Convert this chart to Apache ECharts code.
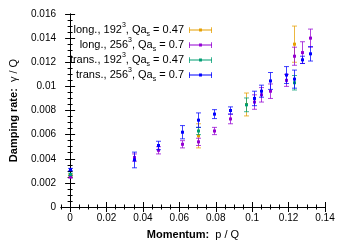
<!DOCTYPE html>
<html><head><meta charset="utf-8">
<script src="https://cdn.jsdelivr.net/npm/echarts@6/dist/echarts.min.js"></script>
<style>html,body{margin:0;padding:0;background:#fff}#c{width:350px;height:245px}</style>
</head><body><div id="c"></div>
<script>
// Data: [momentum p/Q, damping rate γ/Q, error]
const seriesNames = ['long192', 'long256', 'trans192', 'trans256'];
const long192 = [[0,0.0026,0.0001],[0.0701,0.0059,0.001],[0.0964,0.0085,0.00095],[0.1227,0.0135,0.0015]];
const long256 = [[0,0.0025,0.0001],[0.0349,0.0041,0.0003],[0.0484,0.0047,0.0003],[0.0614,0.0052,0.0003],[0.0701,0.0054,0.0003],[0.0788,0.0063,0.0003],[0.0877,0.0073,0.0004],[0.101,0.0087,0.0006],[0.1051,0.0093,0.0006],[0.1097,0.0096,0.0006],[0.1184,0.0105,0.0005],[0.1227,0.0125,0.00075],[0.1271,0.0128,0.0009],[0.1315,0.0140,0.00075]];
const trans192 = [[0,0.0027,0.0001],[0.0701,0.0063,0.0003],[0.0964,0.00847,0.00057],[0.1227,0.0103,0.0006]];
const trans256 = [[0,0.0031,0.0001],[0.0349,0.0039,0.00065],[0.0484,0.0051,0.00035],[0.0614,0.0062,0.00055],[0.0701,0.0072,0.0006],[0.0788,0.0077,0.00037],[0.0877,0.0080,0.0003],[0.101,0.0090,0.0006],[0.1051,0.0096,0.0005],[0.1097,0.01045,0.0007],[0.1184,0.01094,0.0007],[0.1227,0.0106,0.00075],[0.1271,0.0122,0.0003],[0.1315,0.0127,0.0006]];
const legendTexts = [
  ['long., 192','0.47'],
  ['long., 256','0.7'],
  ['trans., 192','0.47'],
  ['trans., 256','0.7']
];
const xTicks = [0,0.02,0.04,0.06,0.08,0.1,0.12,0.14];
const xMinor = []; for (let i=0;i<=29;i++) xMinor.push(+(-0.005+i*0.005).toFixed(3));
const yTicks = [0,0.002,0.004,0.006,0.008,0.01,0.012,0.014,0.016];
const yMinor = []; for (let i=0;i<=32;i++) yMinor.push(+(i*0.0005).toFixed(4));
const colors = ['#e69f00','#9400d3','#009e73','#0000ff'];
const allData = [long192, long256, trans192, trans256];

const chart = echarts.init(document.getElementById('c'), null, {renderer:'canvas'});
const font = 'Liberation Sans';
function errRender(color){
  return function(params, api){
    const x=api.value(0), y=api.value(1), e=api.value(2);
    const c=api.coord([x,y]), hi=api.coord([x,y+e]), lo=api.coord([x,y-e]);
    const w=2.5, st={stroke:color,lineWidth:1,opacity:0.75};
    const cx=Math.round(c[0])+0.5;
    return {type:'group',children:[
      {type:'line',shape:{x1:cx,y1:hi[1],x2:cx,y2:lo[1]},style:st},
      {type:'line',shape:{x1:cx-w,y1:hi[1],x2:cx+w,y2:hi[1]},style:st},
      {type:'line',shape:{x1:cx-w,y1:lo[1],x2:cx+w,y2:lo[1]},style:st},
      {type:'rect',shape:{x:cx-1.5,y:c[1]-1.5,width:3,height:3},style:{fill:color}}
    ]};
  };
}
const rich = {
  n:{fontFamily:font,fontSize:11,color:'#000',lineHeight:16},
  sup:{fontFamily:font,fontSize:7,color:'#000',lineHeight:8,verticalAlign:'top'},
  sub:{fontFamily:font,fontSize:7,color:'#000',lineHeight:8,verticalAlign:'bottom'}
};
const icon = 'path://M0,1H0.8V7H0Z M23.2,1H24V7H23.2Z M0,3.6H24V4.4H0Z M10.5,2.5H13.5V5.5H10.5Z';
const legends = seriesNames.map((nm,i)=>({
  data:[nm], right:138, top:22+15*i, padding:0, align:'right', orient:'horizontal',
  itemWidth:23, itemHeight:7, icon:icon, selectedMode:false,
  formatter:()=>'{n|'+legendTexts[i][0]+'}{sup|3}{n|, Qa}{sub|s}{n| = '+legendTexts[i][1]+'}',
  textStyle:{rich:rich}
}));
const axisLbl = {fontFamily:font,fontSize:10,color:'#000'};
const option = {
  animation:false,
  backgroundColor:'#fff',
  grid:{left:58,right:25,top:14,bottom:35},
  legend:legends,
  xAxis:[
    {type:'value',min:-0.005,max:0.14,position:'bottom',
     axisLine:{lineStyle:{color:'#000',width:1}},
     axisTick:{inside:true,length:5,customValues:xTicks,lineStyle:{color:'#000'}},
     axisLabel:Object.assign({customValues:xTicks,margin:6,formatter:v=>String(+v.toFixed(3))},axisLbl),
     splitLine:{show:false},
     name:'{b|Momentum:}  p / Q',nameLocation:'middle',nameGap:22,
     nameTextStyle:{fontFamily:font,fontSize:11,color:'#000',rich:{b:{fontFamily:font,fontSize:11,fontWeight:'bold',color:'#000'}}}},
    {type:'value',min:-0.005,max:0.14,position:'bottom',
     axisLine:{show:false},axisTick:{inside:true,length:2.5,customValues:xMinor,lineStyle:{color:'#000'}},
     axisLabel:{show:false},splitLine:{show:false}},
    {type:'value',min:-0.005,max:0.14,position:'top',
     axisLine:{lineStyle:{color:'#000',width:1}},
     axisTick:{inside:true,length:5,customValues:xTicks,lineStyle:{color:'#000'}},
     axisLabel:{show:false},splitLine:{show:false}},
    {type:'value',min:-0.005,max:0.14,position:'top',
     axisLine:{show:false},axisTick:{inside:true,length:2.5,customValues:xMinor,lineStyle:{color:'#000'}},
     axisLabel:{show:false},splitLine:{show:false}}
  ],
  yAxis:[
    {type:'value',min:0,max:0.016,position:'left',
     axisLine:{show:true,lineStyle:{color:'#000',width:1}},
     axisTick:{show:true,inside:true,length:5,customValues:yTicks,lineStyle:{color:'#000'}},
     axisLabel:Object.assign({customValues:yTicks,margin:5,formatter:v=>String(+v.toFixed(4))},axisLbl),
     splitLine:{show:false},
     name:'{b|Damping rate:}  γ / Q',nameLocation:'middle',nameGap:42,nameRotate:90,
     nameTextStyle:{fontFamily:font,fontSize:11,color:'#000',rich:{b:{fontFamily:font,fontSize:11,fontWeight:'bold',color:'#000'}}}},
    {type:'value',min:0,max:0.016,position:'left',
     axisLine:{show:false},axisTick:{show:true,inside:true,length:2.5,customValues:yMinor,lineStyle:{color:'#000'}},
     axisLabel:{show:false},splitLine:{show:false}},
    {type:'value',min:0,max:0.016,position:'right',
     axisLine:{show:true,lineStyle:{color:'#000',width:1}},
     axisTick:{show:true,inside:true,length:5,customValues:yTicks,lineStyle:{color:'#000'}},
     axisLabel:{show:false},splitLine:{show:false}},
    {type:'value',min:0,max:0.016,position:'right',
     axisLine:{show:false},axisTick:{show:true,inside:true,length:2.5,customValues:yMinor,lineStyle:{color:'#000'}},
     axisLabel:{show:false},splitLine:{show:false}}
  ],
  series: seriesNames.map((nm,i)=>({
    name:nm,type:'custom',xAxisIndex:0,yAxisIndex:0,
    itemStyle:{color:colors[i]},
    renderItem:errRender(colors[i]),
    encode:{x:0,y:1},
    data:allData[i]
  }))
};
chart.setOption(option);
</script></body></html>
